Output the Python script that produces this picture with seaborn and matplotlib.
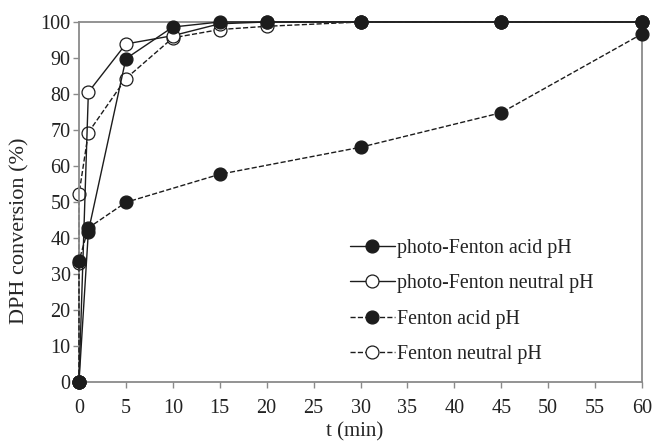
import matplotlib
matplotlib.use("Agg")
import matplotlib.pyplot as plt
import seaborn as sns
import pandas as pd

sns.set_theme(style="white")
plt.rcParams["font.family"] = ["Liberation Serif", "DejaVu Serif"]

# Sampling times (min) and DPH conversion (%) for each treatment
t_pf_acid = [0, 1, 5, 10, 15, 20, 30, 45, 60]
y_pf_acid = [0, 41.8, 89.8, 98.6, 100, 100, 100, 100, 100]

t_pf_neutral = [0, 1, 5, 10, 15, 20, 30, 45, 60]
y_pf_neutral = [0, 80.5, 93.9, 96.2, 99.5, 100, 100, 100, 100]

t_f_acid = [0, 0, 1, 5, 15, 30, 45, 60]
y_f_acid = [0, 33.6, 42.8, 49.9, 57.7, 65.2, 74.8, 96.7]

t_f_neutral = [0, 0, 0, 1, 5, 10, 15, 20, 30, 45, 60]
y_f_neutral = [0, 33.0, 52.2, 69.3, 84.3, 95.6, 97.9, 98.8, 100, 100, 100]

labels = ["photo-Fenton acid pH", "photo-Fenton neutral pH",
          "Fenton acid pH", "Fenton neutral pH"]

x_ticks = list(range(0, 61, 5))
y_ticks = list(range(0, 101, 10))

fig = plt.figure(figsize=(6.56, 4.45), dpi=100)
ax = fig.add_axes([0.1204, 0.1416, 0.8583, 0.809])

ink = "#1c1c1c"
dash = (7, 3.5)
series = [
    (t_pf_acid, y_pf_acid, labels[0], ink, "-", 5),
    (t_pf_neutral, y_pf_neutral, labels[1], "white", "-", 3),
    (t_f_acid, y_f_acid, labels[2], ink, "--", 4),
    (t_f_neutral, y_f_neutral, labels[3], "white", "--", 2),
]

for t, y, lab, face, ls, z in series:
    df = pd.DataFrame({"t": t, "y": y})
    kw = dict(dashes=dash) if ls == "--" else {}
    sns.lineplot(data=df, x="t", y="y", ax=ax, sort=False, estimator=None,
                 color=ink, lw=1.0, linestyle=ls, marker="o", markersize=9.3,
                 markerfacecolor=face, markeredgecolor=ink, markeredgewidth=0.9,
                 label=lab, zorder=z, clip_on=False, **kw)

ax.set_xlim(0, 60)
ax.set_ylim(0, 100)
ax.set_xticks(x_ticks)
ax.set_yticks(y_ticks)
ax.set_xlabel("t (min)", fontsize=15)
ax.set_ylabel("DPH conversion (%)", fontsize=16)
ax.xaxis.set_label_coords(0.49, -0.112)
ax.yaxis.set_label_coords(-0.088, 0.42)

spine_c = "#8a8a8a"
for s in ax.spines.values():
    s.set_color(spine_c)
    s.set_linewidth(1.3)
ax.tick_params(axis="both", which="major", direction="out", length=4,
               width=1.0, color=spine_c, labelsize=14.5, labelcolor="#222222",
               left=True, bottom=True)
ax.tick_params(axis="x", pad=8)
ax.tick_params(axis="y", pad=2)
ax.grid(False)

leg = ax.legend(loc="upper left", bbox_to_anchor=(0.481, 0.397), frameon=False,
                fontsize=14.3, handlelength=2.26, handletextpad=0.12,
                labelspacing=0.82, borderpad=0, borderaxespad=0)
for txt in leg.get_texts():
    txt.set_color("#222222")

fig.savefig("out.png", dpi=100)
